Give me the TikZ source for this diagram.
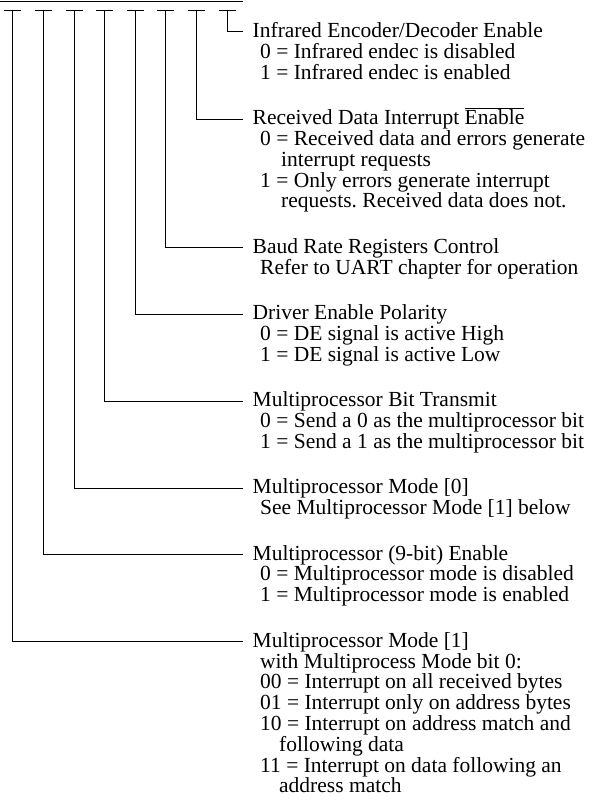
\documentclass[tikz,border=0pt]{standalone}
\usepackage{fontspec}
\setmainfont{Liberation Serif}
\frenchspacing
\begin{document}
\begin{tikzpicture}[x=1pt,y=-1pt,
  txt/.style={anchor=base west, inner sep=0pt, font=\fontsize{21.5}{20.8}\selectfont},
  wire/.style={line width=1pt},
  bar/.style={line width=1.6pt}]
\useasboundingbox (0,0) rectangle (595,800);
% bit columns (left = bit 7)
\coordinate (b7) at (12.7,11);
\coordinate (b6) at (43.35,11);
\coordinate (b5) at (74.0,11);
\coordinate (b4) at (104.65,11);
\coordinate (b3) at (135.3,11);
\coordinate (b2) at (165.95,11);
\coordinate (b1) at (196.6,11);
\coordinate (b0) at (227.25,11);
\coordinate (barL) at (0,1.5);
\coordinate (barR) at (243,1.5);
\draw[bar] (barL) -- (barR);
\foreach \b in {b0,b1,b2,b3,b4,b5,b6,b7}{
  \draw[wire] ([xshift=-8.5pt]\b) -- ([xshift=8.5pt]\b);
}
% connector ends
\coordinate (e0) at (243,32);
\coordinate (e1) at (243,119.1);
\coordinate (e2) at (243,247.8);
\coordinate (e3) at (243,314.1);
\coordinate (e4) at (243,401.2);
\coordinate (e5) at (243,488.3);
\coordinate (e6) at (243,554.6);
\coordinate (e7) at (243,641.7);
\foreach \i in {0,...,7}{
  \draw[wire] (b\i) |- (e\i);
}
% block 0
\node[txt] (h0) at (252.5,37.5) {Infrared Encoder/Decoder Enable};
\node[txt] (h0a) at (260,58.3) {0 = Infrared endec is disabled};
\node[txt] (h0b) at (260,79.1) {1 = Infrared endec is enabled};
% block 1
\node[txt] (h1) at (252.5,124.6) {Received Data Interrupt $\overline{\mbox{Enable}}$};
\node[txt] (h1a) at (260,145.4) {0 = Received data and errors generate};
\node[txt] (h1b) at (281,166.2) {interrupt requests};
\node[txt] (h1c) at (260,187.0) {1 = Only errors generate interrupt};
\node[txt] (h1d) at (281,207.8) {requests. Received data does not.};
% block 2
\node[txt] (h2) at (252.5,253.3) {Baud Rate Registers Control};
\node[txt] (h2a) at (260,274.1) {Refer to UART chapter for operation};
% block 3
\node[txt] (h3) at (252.5,319.6) {Driver Enable Polarity};
\node[txt] (h3a) at (260,340.4) {0 = DE signal is active High};
\node[txt] (h3b) at (260,361.2) {1 = DE signal is active Low};
% block 4
\node[txt] (h4) at (252.5,406.7) {Multiprocessor Bit Transmit};
\node[txt] (h4a) at (260,427.5) {0 = Send a 0 as the multiprocessor bit};
\node[txt] (h4b) at (260,448.3) {1 = Send a 1 as the multiprocessor bit};
% block 5
\node[txt] (h5) at (252.5,493.8) {Multiprocessor Mode [0]};
\node[txt] (h5a) at (260,514.6) {See Multiprocessor Mode [1] below};
% block 6
\node[txt] (h6) at (252.5,560.1) {Multiprocessor (9-bit) Enable};
\node[txt] (h6a) at (260,580.9) {0 = Multiprocessor mode is disabled};
\node[txt] (h6b) at (260,601.7) {1 = Multiprocessor mode is enabled};
% block 7
\node[txt] (h7) at (252.5,647.2) {Multiprocessor Mode [1]};
\node[txt] (h7a) at (260,668.0) {with Multiprocess Mode bit 0:};
\node[txt] (h7b) at (260,688.8) {00 = Interrupt on all received bytes};
\node[txt] (h7c) at (260,709.6) {01 = Interrupt only on address bytes};
\node[txt] (h7d) at (260,730.4) {10 = Interrupt on address match and};
\node[txt] (h7e) at (279,751.2) {following data};
\node[txt] (h7f) at (260,772.0) {11 = Interrupt on data following an};
\node[txt] (h7g) at (279,792.8) {address match};
\end{tikzpicture}
\end{document}
